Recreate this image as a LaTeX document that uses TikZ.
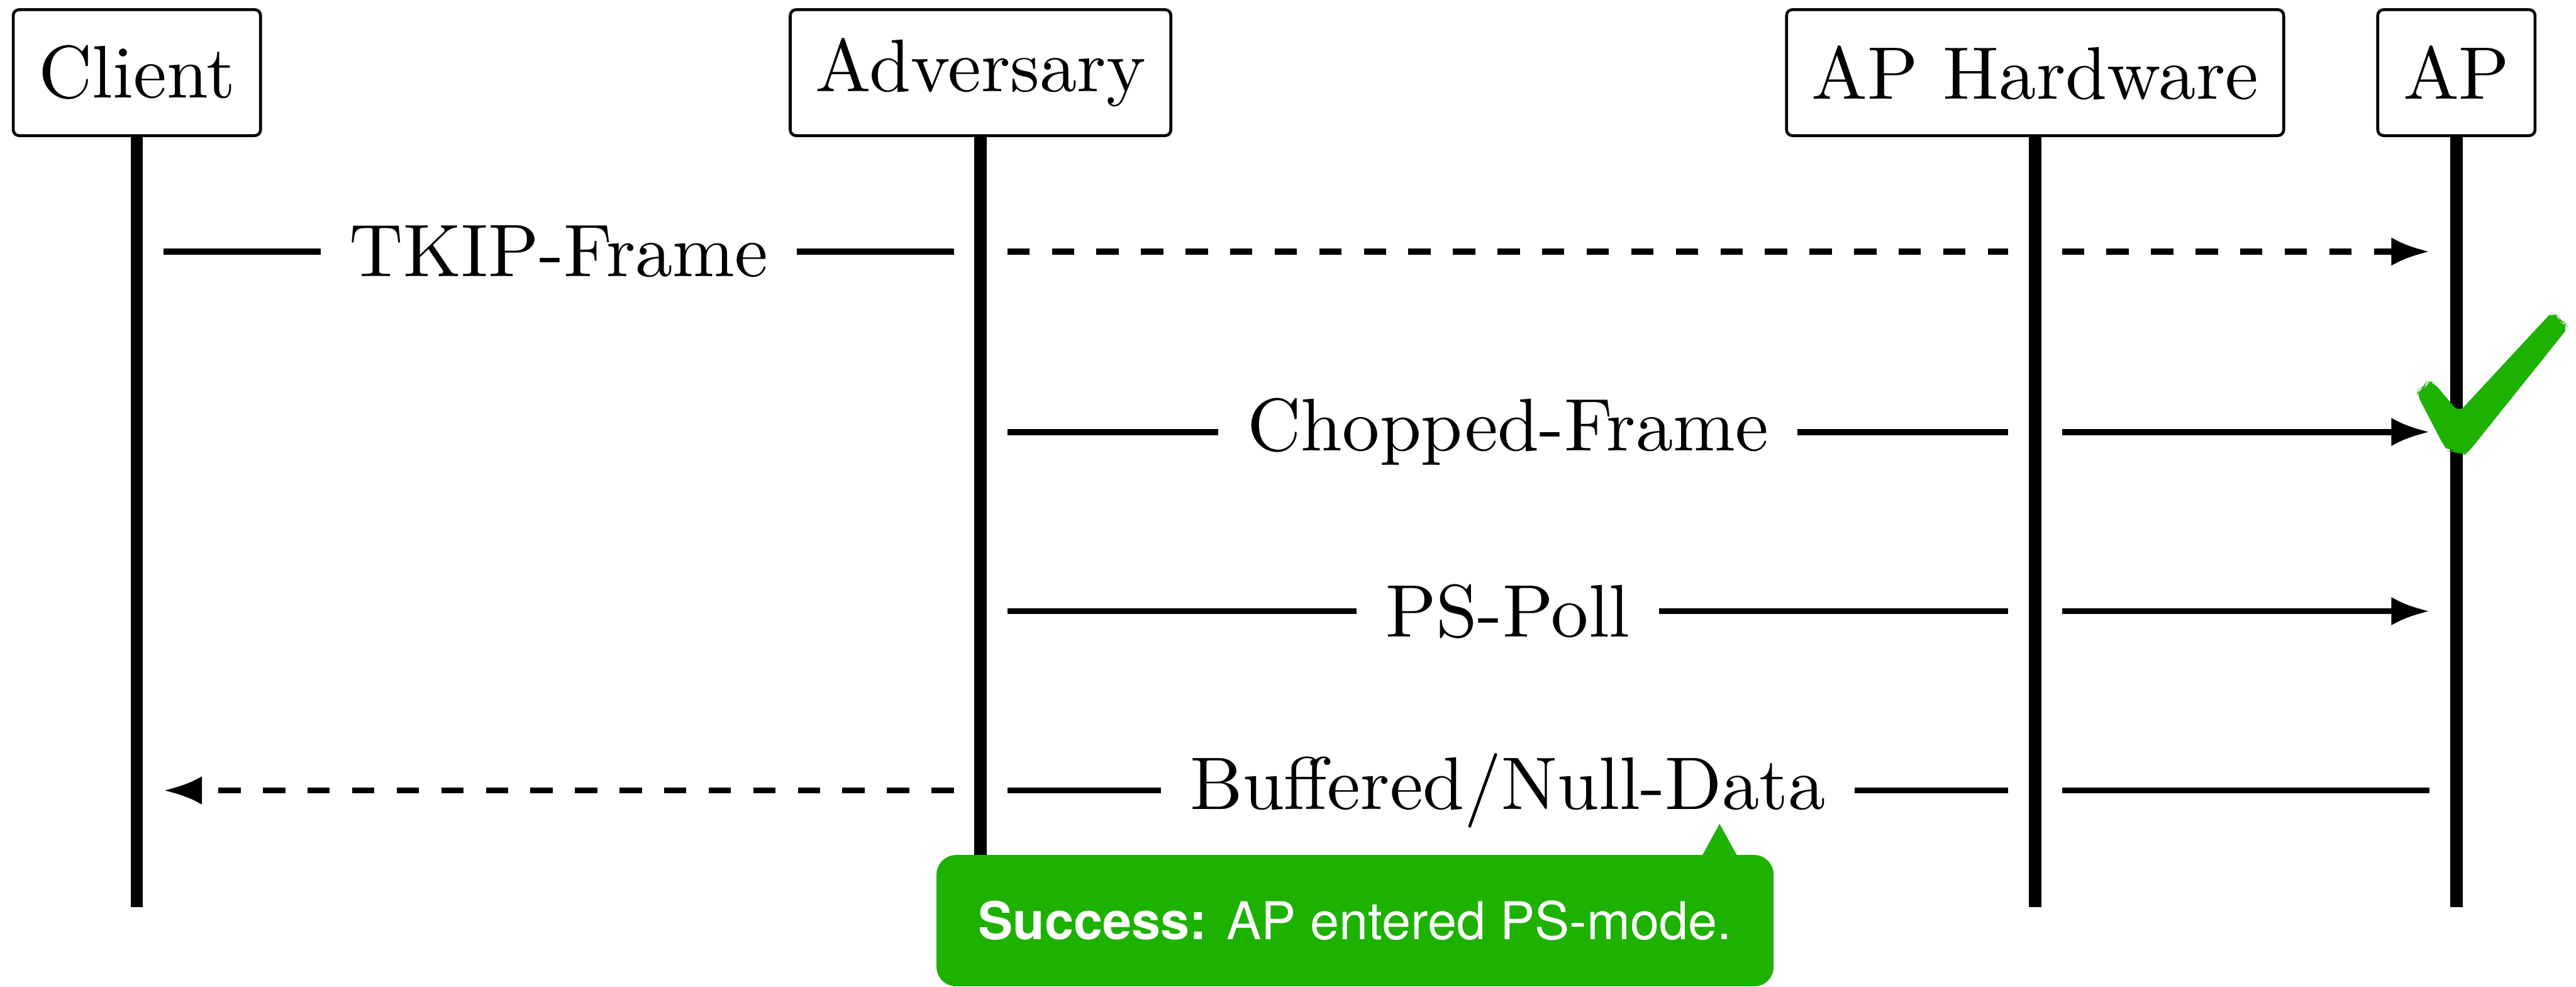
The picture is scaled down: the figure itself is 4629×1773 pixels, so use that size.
\documentclass[tikz,border=0pt]{standalone}
\usepackage{fontspec}
\newfontfamily\calloutfont{TeX Gyre Heros}
\usetikzlibrary{arrows.meta}
\definecolor{okgreen}{HTML}{1DB100}

\begin{document}
\begin{tikzpicture}[x=0.07692pt,y=-0.07692pt,
  font=\fontsize{10.3}{12.4}\selectfont,
  actor/.style={draw,line width=0.4pt,rounded corners=0.8pt,
    minimum height=17.4pt,inner xsep=3.5pt,inner ysep=0pt},
  lifeline/.style={line width=1.7pt},
  msg/.style={line width=0.85pt,shorten <=3.7pt,shorten >=3.7pt},
  dashmsg/.style={msg,dash pattern=on 3.08pt off 3.08pt},
  tip/.style={-{Latex[length=5.3pt,width=3.95pt]}},
  lbl/.style={fill=white,inner xsep=4pt,inner ysep=0.5pt},
  note/.style={fill=okgreen,rounded corners=2.7pt,text=white,
    minimum width=115.7pt,minimum height=18.15pt,inner sep=0pt,
    font=\calloutfont\fontsize{7.2}{8.6}\selectfont}
]
\useasboundingbox (0,0) rectangle (4629,1773);

% participants
\node[actor] (client) at (246,130.5)  {Client};
\node[actor] (adv)    at (1762,130.5) {Adversary};
\node[actor] (hw)     at (3657,130.5) {AP Hardware};
\node[actor] (ap)     at (4414,130.5) {AP};

% lifelines
\coordinate (bottom) at (0,1630);
\foreach \p in {client,adv,hw,ap}
  \draw[lifeline] (\p.south) -- (\p.south |- bottom);

% message rows
\coordinate (r1) at (0,452);
\coordinate (r2) at (0,776);
\coordinate (r3) at (0,1098);
\coordinate (r4) at (0,1420);

% TKIP frame from the client, forwarded to the AP
\draw[msg] (client |- r1) -- node[lbl] {TKIP-Frame} (adv |- r1);
\draw[dashmsg] (adv |- r1) -- (hw |- r1);
\draw[dashmsg,tip] (hw |- r1) -- (ap |- r1);

% chopped frame
\draw[msg] (adv |- r2) -- node[lbl] {Chopped-Frame} (hw |- r2);
\draw[msg,tip] (hw |- r2) -- (ap |- r2);

% PS-Poll
\draw[msg] (adv |- r3) -- node[lbl] {PS-Poll} (hw |- r3);
\draw[msg,tip] (hw |- r3) -- (ap |- r3);

% buffered / null data back to the client
\draw[msg] (ap |- r4) -- (hw |- r4);
\draw[msg] (hw |- r4) -- node[lbl] {Buffered/Null-Data} (adv |- r4);
\draw[dashmsg,tip] (adv |- r4) -- (client |- r4);

% success callout
\node[note] (success) at (2435,1654) {\textbf{Success:} AP entered PS-mode.};
\coordinate (pointer) at (3090,1480);
\fill[okgreen] (3057,1540) -- (pointer) -- (3123,1540) -- cycle;

% check mark on the AP lifeline
\fill[okgreen,rounded corners=1pt]
  (4343.3,708.3) -- (4391.7,801.7) -- (4400,810.7) -- (4408.3,809.3)
  -- (4425,818.3) -- (4433.3,815) -- (4608.3,596.7) -- (4614,587.3)
  -- (4608.3,580) -- (4600,578.3) -- (4597.3,568.3) -- (4587.3,560.7)
  -- (4580,566.7) -- (4418.3,740.7) -- (4373.3,687.3) -- (4366.7,686)
  -- (4359.3,688.3) -- (4357.3,696) -- (4345,700) -- cycle;
\end{tikzpicture}
\end{document}
